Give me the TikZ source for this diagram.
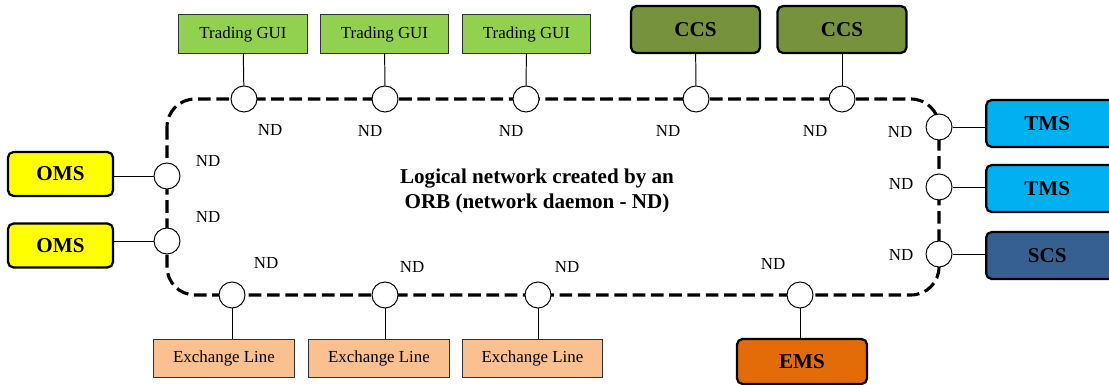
\documentclass[tikz,border=0pt]{standalone}
\usepackage{fontspec}
\setmainfont{Liberation Serif}
\definecolor{guiGreen}{RGB}{146,208,80}
\definecolor{ccsOlive}{RGB}{118,146,60}
\definecolor{tmsBlue}{RGB}{0,176,240}
\definecolor{scsBlue}{RGB}{54,96,146}
\definecolor{omsYellow}{RGB}{255,255,0}
\definecolor{lineOrange}{RGB}{250,192,144}
\definecolor{emsOrange}{RGB}{227,108,9}
\tikzset{
  thinBox/.style={draw={rgb,255:red,50;green,50;blue,50}, line width=0.7pt, rectangle, minimum height=0.95cm, font=\fontsize{12}{14}\selectfont},
  sysBox/.style={draw=black, line width=1.6pt, rectangle, rounded corners=4pt, font=\fontsize{15}{18}\selectfont\bfseries},
  ndCircle/.style={draw=black, fill=white, line width=0.7pt, circle, minimum size=0.65cm, inner sep=0pt},
  ndLabel/.style={font=\fontsize{12}{14}\selectfont, inner sep=0pt},
  ring/.style={draw=black, line width=2.2pt, dash pattern=on 9pt off 4pt, rounded corners=0.7cm},
  link/.style={draw=black, line width=0.7pt}
}
\begin{document}
\begin{tikzpicture}[x=0.025cm,y=-0.025cm]
\clip (0,0) rectangle (1109,385);

% the ORB ring
\draw[ring] (167,99) rectangle (939,295);
\node[font=\fontsize{15}{18}\selectfont\bfseries, align=center] (ndOrb) at (537,191) {Logical network created by an\\ORB (network daemon - ND)};

% top side
\node[thinBox, fill=guiGreen, minimum width=3.2cm] (ndGui1) at (243,34) {Trading GUI};
\node[thinBox, fill=guiGreen, minimum width=3.2cm] (ndGui2) at (384.5,34) {Trading GUI};
\node[thinBox, fill=guiGreen, minimum width=3.2cm] (ndGui3) at (526.5,34) {Trading GUI};
\node[sysBox, fill=ccsOlive, minimum width=3.225cm, minimum height=1.175cm] (ndCcs1) at (695.5,29.5) {CCS};
\node[sysBox, fill=ccsOlive, minimum width=3.225cm, minimum height=1.175cm] (ndCcs2) at (842,29.5) {CCS};
\node[ndCircle] (ndT1) at (244,99) {};
\node[ndCircle] (ndT2) at (385,99) {};
\node[ndCircle] (ndT3) at (526,99) {};
\node[ndCircle] (ndT4) at (696,99) {};
\node[ndCircle] (ndT5) at (842,99) {};
\draw[link] (ndGui1) -- (ndT1);
\draw[link] (ndGui2) -- (ndT2);
\draw[link] (ndGui3) -- (ndT3);
\draw[link] (ndCcs1) -- (ndT4);
\draw[link] (ndCcs2) -- (ndT5);
\node[ndLabel] (lblT1) at (270,130) {ND};
\node[ndLabel] (lblT2) at (370,131) {ND};
\node[ndLabel] (lblT3) at (511,131) {ND};
\node[ndLabel] (lblT4) at (668,131) {ND};
\node[ndLabel] (lblT5) at (815,131) {ND};

% left side
\node[sysBox, fill=omsYellow, minimum width=2.625cm, minimum height=1.1cm] (ndOms1) at (60.5,174) {OMS};
\node[sysBox, fill=omsYellow, minimum width=2.625cm, minimum height=1.1cm] (ndOms2) at (60.5,245.5) {OMS};
\node[ndCircle] (ndL1) at (167,176) {};
\node[ndCircle] (ndL2) at (167,241) {};
\draw[link] (ndL1) -- (ndL1 -| ndOms1.east);
\draw[link] (ndL2) -- (ndL2 -| ndOms2.east);
\node[ndLabel] (lblL1) at (208,161) {ND};
\node[ndLabel] (lblL2) at (208,217) {ND};

% right side
\node[sysBox, fill=tmsBlue, minimum width=3.25cm, minimum height=1.175cm, anchor=west] (ndTms1) at (985,123.5) {\hspace*{-0.2cm}TMS};
\node[sysBox, fill=tmsBlue, minimum width=3.25cm, minimum height=1.175cm, anchor=west] (ndTms2) at (985,188.5) {\hspace*{-0.2cm}TMS};
\node[sysBox, fill=scsBlue, minimum width=3.25cm, minimum height=1.175cm, anchor=west] (ndScs) at (985,255.5) {\hspace*{-0.2cm}SCS};
\node[ndCircle] (ndR1) at (939,127) {};
\node[ndCircle] (ndR2) at (939,187) {};
\node[ndCircle] (ndR3) at (939,254) {};
\draw[link] (ndR1) -- (ndR1 -| ndTms1.west);
\draw[link] (ndR2) -- (ndR2 -| ndTms2.west);
\draw[link] (ndR3) -- (ndR3 -| ndScs.west);
\node[ndLabel] (lblR1) at (900,132) {ND};
\node[ndLabel] (lblR2) at (901,184) {ND};
\node[ndLabel] (lblR3) at (901,255) {ND};

% bottom side
\node[thinBox, fill=lineOrange, minimum width=3.5cm] (ndLine1) at (224,358) {Exchange Line};
\node[thinBox, fill=lineOrange, minimum width=3.5cm] (ndLine2) at (379,358) {Exchange Line};
\node[thinBox, fill=lineOrange, minimum width=3.5cm] (ndLine3) at (532.5,358) {Exchange Line};
\node[sysBox, fill=emsOrange, minimum width=3.25cm, minimum height=1.125cm] (ndEms) at (802,361.5) {EMS};
\node[ndCircle] (ndB1) at (232,295) {};
\node[ndCircle] (ndB2) at (385,295) {};
\node[ndCircle] (ndB3) at (538,295) {};
\node[ndCircle] (ndB4) at (800,295) {};
\draw[link] (ndB1) -- (ndB1 |- ndLine1.north);
\draw[link] (ndB2) -- (ndB2 |- ndLine2.north);
\draw[link] (ndB3) -- (ndB3 |- ndLine3.north);
\draw[link] (ndB4) -- (ndB4 |- ndEms.north);
\node[ndLabel] (lblB1) at (266,263) {ND};
\node[ndLabel] (lblB2) at (412,267) {ND};
\node[ndLabel] (lblB3) at (567,267) {ND};
\node[ndLabel] (lblB4) at (773,264) {ND};
\end{tikzpicture}
\end{document}
